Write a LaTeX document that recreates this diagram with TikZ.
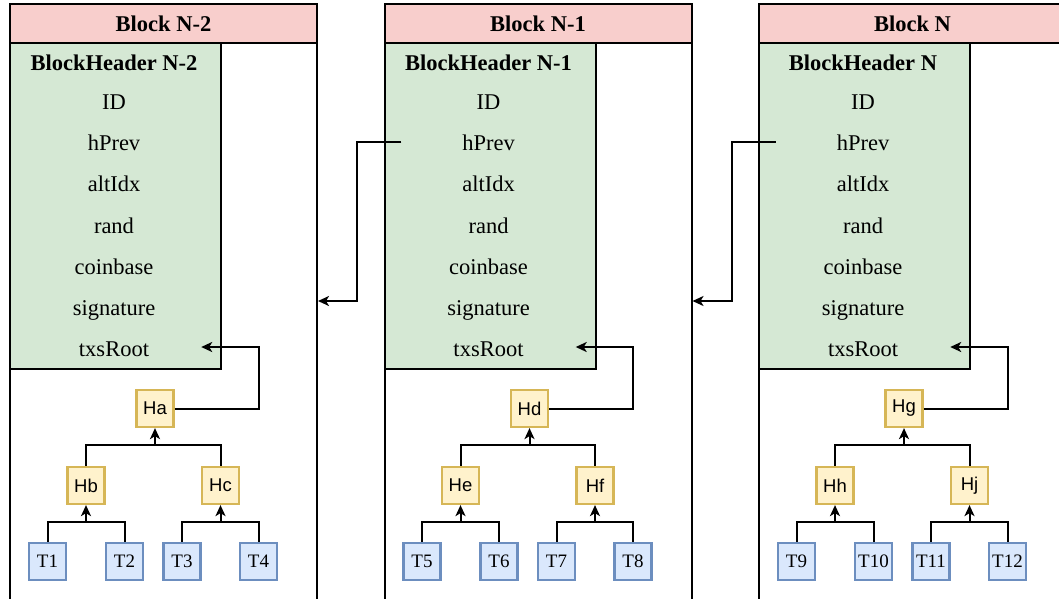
\documentclass[tikz,border=0pt]{standalone}
\usepackage{fontspec}
\setmainfont{Liberation Serif}
\newfontfamily\hsans{Liberation Sans}
\usetikzlibrary{arrows.meta,calc}
\definecolor{pinkfill}{HTML}{F8CECC}
\definecolor{greenfill}{HTML}{D5E8D4}
\definecolor{yelfill}{HTML}{FFF2CC}
\definecolor{yelline}{HTML}{D6B656}
\definecolor{bluefill}{HTML}{DAE8FC}
\definecolor{blueline}{HTML}{6C8EBF}
\tikzset{
  blockbody/.style={draw=black,line width=2pt,fill=white,minimum width=307pt,minimum height=640pt,anchor=north west,inner sep=0pt},
  titlebar/.style={draw=black,line width=2pt,fill=pinkfill,minimum width=307pt,minimum height=39pt,anchor=north west,inner sep=0pt,text height=15.4pt,text depth=0pt,font=\fontsize{22.5}{27}\selectfont\bfseries},
  header/.style={draw=black,line width=2pt,fill=greenfill,minimum width=211pt,minimum height=326pt,anchor=north west,inner sep=0pt},
  row/.style={anchor=base,inner sep=0pt,minimum width=174pt,font=\fontsize{22.5}{27}\selectfont},
  rowb/.style={row,font=\fontsize{22.5}{27}\selectfont\bfseries},
  hbox/.style={draw=yelline,fill=yelfill,line width=2.2pt,minimum width=37pt,minimum height=37pt,inner sep=0pt,font=\hsans\fontsize{18.5}{21}\selectfont},
  tbox/.style={draw=blueline,fill=bluefill,line width=2.2pt,minimum width=37pt,minimum height=37pt,inner sep=0pt,font=\fontsize{19}{21}\selectfont},
  conn/.style={draw=black,line width=2pt},
  arr/.style={conn,-{Stealth[length=11pt,width=10pt,inset=3pt]}}
}
\begin{document}
\begin{tikzpicture}[x=1pt,y=-1pt]
\useasboundingbox (0,0) rectangle (1059,598);
\clip (0,0) rectangle (1059,598);
\fill[white] (0,0) rectangle (1059,598);
\foreach \s/\o/\n/\ha/\hb/\hc/\ta/\tb/\tc/\td in {A/0/N-2/Ha/Hb/Hc/T1/T2/T3/T4, B/374.5/N-1/Hd/He/Hf/T5/T6/T7/T8, C/749/N/Hg/Hh/Hj/T9/T10/T11/T12}{
  \begin{scope}[xshift=\o pt]
    \node[blockbody] (body\s) at (9,3) {};
    \node[titlebar] (title\s) at (9,3) {Block \n};
    \node[header] (hdr\s) at (9,42) {};
    \node[rowb] (bh\s) at (114,70) {BlockHeader \n};
    \node[row] (id\s) at (114,109) {ID};
    \node[row] (hp\s) at (114,150) {hPrev};
    \node[row] (ai\s) at (114,191) {altIdx};
    \node[row] (rd\s) at (114,233) {rand};
    \node[row] (cb\s) at (114,274) {coinbase};
    \node[row] (sg\s) at (114,315) {signature};
    \node[row] (tx\s) at (114,356) {txsRoot};
    \node[hbox] (ha\s) at (155,408.5) {\ha};
    \node[hbox] (hb\s) at (86,485.5) {\hb};
    \node[hbox] (hc\s) at (220.5,485.5) {\hc};
    \node[tbox] (ta\s) at (47.5,561.5) {\ta};
    \node[tbox] (tb\s) at (124.5,561.5) {\tb};
    \node[tbox] (tc\s) at (182,561.5) {\tc};
    \node[tbox] (td\s) at (258.5,561.5) {\td};
    \draw[conn] (hb\s.north) |- ($(ha\s.south)+(0,17)$) -| (hc\s.north);
    \draw[arr] ($(ha\s.south)+(0,17)$) -- (ha\s.south);
    \draw[conn] (ta\s.north) |- ($(hb\s.south)+(0,17)$) -| (tb\s.north);
    \draw[arr] ($(hb\s.south)+(0,17)$) -- (hb\s.south);
    \draw[conn] (tc\s.north) |- ($(hc\s.south)+(0,17)$) -| (td\s.north);
    \draw[arr] ($(hc\s.south)+(0,17)$) -- (hc\s.south);
    \draw[arr] (ha\s.east) -- ++(84,0) |- ([yshift=9pt]tx\s.base east);
  \end{scope}
}
\draw[arr] ([yshift=8pt]hpB.base west) -- ++(-44,0) |- ($(bodyA.east |- sgA.base)+(0,-14)$);
\draw[arr] ([yshift=8pt]hpC.base west) -- ++(-44,0) |- ($(bodyB.east |- sgB.base)+(0,-14)$);
\end{tikzpicture}
\end{document}
